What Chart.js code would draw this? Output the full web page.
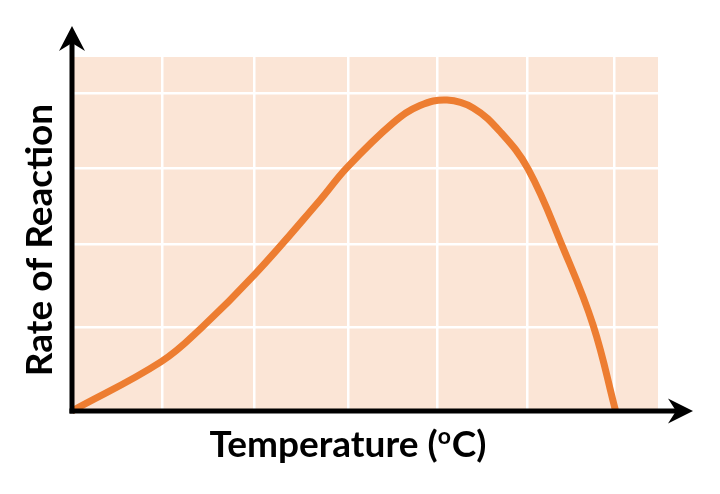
<!DOCTYPE html>
<html>
<head>
<meta charset="utf-8">
<script src="https://cdn.jsdelivr.net/npm/chart.js@4.4.1/dist/chart.umd.min.js"></script>
<style>
  html, body { margin: 0; padding: 0; background: #fff; }
  #wrap { width: 720px; height: 494px; }
</style>
</head>
<body>
<div id="wrap"><canvas id="chart"></canvas></div>
<script>
// temperature (x) and rate (y) in grid units
const temps = [0, 0.99, 1.44, 2.03, 2.75, 3.05, 3.56, 3.86, 4.16, 4.45, 4.75, 5.06, 5.44, 5.78, 6.03];
const rates = [0, 0.62, 1.05, 1.72, 2.65, 3.06, 3.62, 3.84, 3.91, 3.81, 3.51, 3.04, 2.07, 1.08, 0];

// hand-drawn grid lines (not quite even in the original)
const xGrid = [0, 1, 2.02, 3.06, 4.05, 5.05, 6.01];
const yGrid = [0, 1.05, 2.1, 3.05, 4.0];

const xTitle = ['Temperature (', 'o', 'C)'];
const yTitle = 'Rate of Reaction';

const peach = '#FBE5D6';
const orange = '#ED7D31';

const points = temps.map((t, i) => ({ x: t, y: rates[i] }));

const sketchPlugin = {
    id: 'sketch',
    beforeDraw(chart) {
        const { ctx, chartArea: a } = chart;
        ctx.save();
        ctx.fillStyle = peach;
        ctx.fillRect(a.left, a.top, a.right - a.left, a.bottom - a.top);
        ctx.restore();
    },
    afterDraw(chart) {
        const { ctx, chartArea: a } = chart;
        ctx.save();
        ctx.strokeStyle = '#000';
        ctx.fillStyle = '#000';
        ctx.lineWidth = 5;

        // y axis + arrow
        ctx.beginPath();
        ctx.moveTo(a.left, a.bottom + 2.5);
        ctx.lineTo(a.left, a.top - 14);
        ctx.stroke();
        ctx.beginPath();
        ctx.moveTo(a.left, a.top - 31);
        ctx.lineTo(a.left + 13, a.top - 6);
        ctx.lineTo(a.left, a.top - 14);
        ctx.lineTo(a.left - 13, a.top - 6);
        ctx.closePath();
        ctx.fill();

        // x axis + arrow
        ctx.beginPath();
        ctx.moveTo(a.left - 2.5, a.bottom);
        ctx.lineTo(a.right + 18, a.bottom);
        ctx.stroke();
        ctx.beginPath();
        ctx.moveTo(a.right + 35, a.bottom);
        ctx.lineTo(a.right + 10, a.bottom - 12.5);
        ctx.lineTo(a.right + 18, a.bottom);
        ctx.lineTo(a.right + 10, a.bottom + 12.5);
        ctx.closePath();
        ctx.fill();

        // axis titles
        const big = 'bold 37px Lato, "Open Sans", sans-serif';
        const small = 'bold 23px Lato, "Open Sans", sans-serif';
        ctx.textBaseline = 'alphabetic';
        ctx.font = big;
        const w0 = ctx.measureText(xTitle[0]).width;
        const w2 = ctx.measureText(xTitle[2]).width;
        ctx.font = small;
        const w1 = ctx.measureText(xTitle[1]).width + 1;
        let x = (a.left + a.right) / 2 - 17 - (w0 + w1 + w2) / 2;
        const base = a.bottom + 46;
        ctx.font = big;
        ctx.textAlign = 'left';
        ctx.fillText(xTitle[0], x, base);
        ctx.font = small;
        ctx.fillText(xTitle[1], x + w0, base - 13);
        ctx.font = big;
        ctx.fillText(xTitle[2], x + w0 + w1, base);

        ctx.translate(a.left - 32, (a.top + a.bottom) / 2 + 6);
        ctx.rotate(-Math.PI / 2);
        ctx.textAlign = 'center';
        ctx.textBaseline = 'middle';
        ctx.fillText(yTitle, 0, 0);
        ctx.restore();
    }
};

new Chart(document.getElementById('chart').getContext('2d'), {
    type: 'line',
    data: {
        datasets: [{
            data: points,
            borderColor: orange,
            borderWidth: 7,
            pointRadius: 0,
            fill: false,
            tension: 0.4,
            clip: false,
        }],
    },
    options: {
        responsive: true,
        maintainAspectRatio: false,
        animation: false,
        events: [],
        layout: { padding: { left: 72, top: 57, right: 62, bottom: 83 } },
        plugins: { legend: { display: false }, tooltip: { enabled: false } },
        scales: {
            x: {
                type: 'linear',
                min: 0,
                max: 6.5,
                afterBuildTicks: (s) => { s.ticks = xGrid.map(v => ({ value: v })); },
                afterFit: (s) => { s.height = 0; },
                ticks: { display: false },
                border: { display: false },
                grid: { color: '#fff', lineWidth: 2.5, drawTicks: false },
            },
            y: {
                type: 'linear',
                min: 0,
                max: 4.45,
                afterBuildTicks: (s) => { s.ticks = yGrid.map(v => ({ value: v })); },
                afterFit: (s) => { s.width = 0; },
                ticks: { display: false },
                border: { display: false },
                grid: { color: '#fff', lineWidth: 2.5, drawTicks: false },
            },
        },
    },
    plugins: [sketchPlugin],
});
</script>
</body>
</html>
